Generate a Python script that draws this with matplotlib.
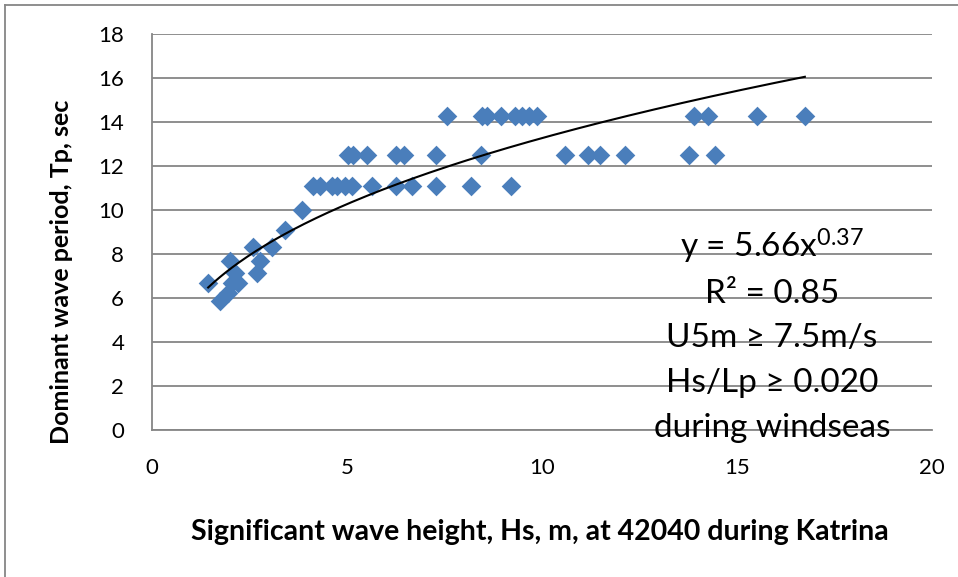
import matplotlib.pyplot as plt
import numpy as np
from matplotlib.lines import Line2D

plt.rcParams.update({
    "font.family": ["Lato", "DejaVu Sans"],
    "mathtext.fontset": "custom",
    "mathtext.rm": "Lato",
    "mathtext.it": "Lato:italic",
    "mathtext.bf": "Lato:bold",
})

# Peak periods come in the buoy's frequency bins (1/0.07, 1/0.08, ... s)
hs_1429 = [7.56, 8.45, 8.6, 8.95, 9.31, 9.49, 9.67, 9.87, 13.9, 14.26, 15.51, 16.74]
hs_1250 = [5.03, 5.15, 5.51, 6.26, 6.46, 7.28, 8.44, 10.59, 11.18, 11.49, 12.13, 13.77, 14.44]
hs_1111 = [4.13, 4.31, 4.62, 4.74, 4.95, 5.13, 5.64, 6.26, 6.67, 7.28, 8.18, 9.2]
hs_low = [3.85, 3.41, 2.59, 3.08, 2.0, 2.77, 2.69, 2.13, 1.44, 2.05, 2.2, 1.95, 1.74]
tp_low = [10.0, 9.09, 8.33, 8.33, 7.69, 7.69, 7.14, 7.14, 6.67, 6.67, 6.67, 6.25, 5.88]

hs = np.array(hs_1429 + hs_1250 + hs_1111 + hs_low)
tp = np.array([14.29] * len(hs_1429) + [12.5] * len(hs_1250)
              + [11.11] * len(hs_1111) + tp_low)

# power-law trend line reported on the chart
coef_a = 5.66
coef_b = 0.37

note_lines = ["y = 5.66x$^\\mathrm{0.37}$", "R² = 0.85", "U5m ≥ 7.5m/s",
              "Hs/Lp ≥ 0.020", "during windseas"]

grey = "#868686"

fig = plt.figure(figsize=(9.58, 5.77), dpi=100)
ax = fig.add_axes([152 / 958, 1 - 430 / 577, 780 / 958, 396 / 577])

ax.scatter(hs, tp, marker="D", s=100, color="#4A7EBB", linewidths=0, zorder=3)

xt = np.linspace(hs.min(), hs.max(), 200)
ax.plot(xt, coef_a * xt ** coef_b, color="black", lw=1.5, zorder=4)

ax.set_xlim(0, 20)
ax.set_ylim(0, 18)
ax.set_xticks(np.arange(0, 21, 5))
ax.set_yticks(np.arange(0, 19, 2))
ax.grid(axis="y", color=grey, lw=1.3)
ax.set_axisbelow(True)
ax.tick_params(length=0, labelsize=16)
ax.tick_params(axis="x", pad=20)
ax.tick_params(axis="y", pad=20)
for side in ["top", "right"]:
    ax.spines[side].set_visible(False)
for side in ["left", "bottom"]:
    ax.spines[side].set_color(grey)
    ax.spines[side].set_linewidth(1.3)

fig.text(540 / 958, 1 - 532 / 577, "Significant wave height, Hs, m, at 42040 during Katrina",
         ha="center", va="center", fontsize=20.5, fontweight="bold")
fig.text(62 / 958, 1 - 272 / 577, "Dominant wave period, Tp, sec",
         ha="center", va="center", rotation=90, fontsize=18, fontweight="bold")

for i, line in enumerate(note_lines):
    fig.text(772 / 958, 1 - (258 + 44.7 * i) / 577, line, ha="center", va="baseline",
             fontsize=24)

# outer chart frame (only top and left edges show)
fig.add_artist(Line2D([5 / 958, 1], [1 - 5 / 577] * 2, color=grey, lw=1.3))
fig.add_artist(Line2D([5 / 958] * 2, [0, 1 - 5 / 577], color=grey, lw=1.3))

fig.savefig("out.png", dpi=100)
